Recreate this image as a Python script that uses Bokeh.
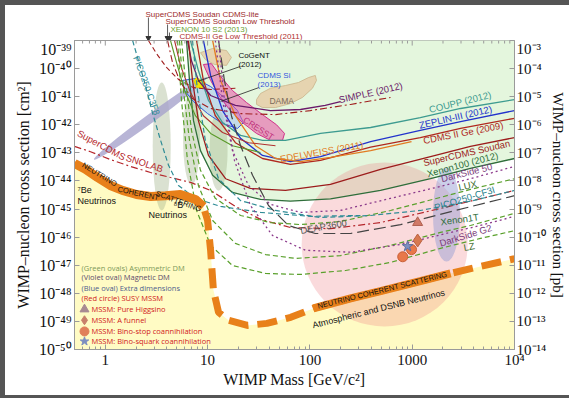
import math
from bokeh.plotting import figure
from bokeh.models import (Range1d, LogScale, LogAxis, FixedTicker,
                          CustomJSTickFormatter)
from bokeh.core.properties import value
from bokeh.layouts import column
from bokeh.embed import file_html
from bokeh.resources import INLINE

# WIMP mass in GeV/c^2, spin-independent WIMP-nucleon cross section in cm^2

# neutrino coherent scattering floor
floor_mass = [0.5, 0.64, 0.84, 1.12, 1.47, 2.02, 2.77, 3.88, 5.43, 7.6, 9.1, 10.0, 10.7,
              11.4, 12.8, 16.0, 24.5, 38.0, 65.0, 108, 250, 490, 1200, 2370, 4650, 10000]
floor_xsec = [4.2e-44, 2.6e-44, 1.33e-44, 6.9e-45, 4.6e-45, 3.3e-45, 2.8e-45, 3.0e-45, 3.3e-45,
              2.2e-45, 1.23e-45, 3.9e-46, 3.4e-47, 1.3e-48, 2.1e-49, 1.1e-49, 7.2e-50, 8.5e-50,
              1.4e-49, 2.9e-49, 6.6e-49, 1.2e-48, 2.7e-48, 5.1e-48, 9.1e-48, 1.7e-47]

# current limits
coupp_mass = [6.8, 8.13, 10.2, 14.0, 21.0, 34.4, 57.7, 127, 392, 1200, 2970, 10000]
coupp_xsec = [1.0e-39, 8.5e-41, 7.3e-42, 1.2e-42, 4.2e-43, 2.8e-43, 2.8e-43, 4.9e-43,
              8.0e-43, 1.8e-42, 3.8e-42, 7.9e-42]
zeplin_mass = [9.1, 10.7, 14.0, 21.0, 34.4, 64.6, 127, 392, 1200, 2970, 10000]
zeplin_xsec = [1.0e-39, 5.7e-41, 3.2e-42, 3.3e-43, 8.1e-44, 4.9e-44, 7.4e-44, 2.5e-43,
               6.3e-43, 1.3e-42, 3.2e-42]
cdmsge_mass = [7.8, 9.1, 11.9, 18.7, 34.4, 64.6, 127, 392, 1200, 2970, 10000]
cdmsge_xsec = [1.0e-39, 3.8e-41, 2.1e-42, 2.3e-43, 6.3e-44, 3.9e-44, 5.4e-44, 1.6e-43,
               3.5e-43, 7.4e-43, 1.7e-42]
edelweiss_mass = [11.2, 13.4, 18.7, 29.4, 46.1, 80.9, 159, 392, 985]
edelweiss_xsec = [1.0e-39, 3.8e-41, 2.1e-42, 1.8e-43, 6.3e-44, 4.9e-44, 6.9e-44, 1.2e-43, 2.5e-43]
xenon100_mass = [6.22, 6.65, 7.28, 8.52, 11.2, 17.5, 32.9, 64.6, 159, 490, 1510, 3710, 10000]
xenon100_xsec = [1.0e-39, 3.8e-41, 1.4e-42, 1.2e-43, 1.6e-44, 3.9e-45, 2.2e-45, 1.9e-45,
                 2.3e-45, 4.6e-45, 1.2e-44, 2.8e-44, 6.3e-44]
simple_mass = [6.36, 6.96, 8.13, 10.7, 18.7, 41.2, 80.9, 141, 199]
simple_xsec = [1.0e-39, 1.9e-40, 3.8e-41, 1.1e-41, 4.9e-42, 3.2e-42, 3.5e-42, 4.9e-42, 6.7e-42]
cdmslite_mass = [2.64, 3.17, 3.97, 5.19, 7.28, 10.7, 18.7]
cdmslite_xsec = [1.0e-39, 3.4e-40, 1.1e-40, 4.1e-41, 2.1e-41, 1.8e-41, 2.0e-41]
soudan_lt_mass = [4.06, 4.54, 5.43, 7.12, 10.7, 21.0, 46.1, 101, 250, 614]
soudan_lt_xsec = [1.0e-39, 1.65e-40, 3.2e-41, 8.6e-42, 3.8e-42, 2.5e-42, 2.3e-42, 3.2e-42,
                  5.3e-42, 9.4e-42]
xenon10_mass = [4.34, 4.97, 5.95, 7.6, 10.7, 17.5, 32.9]
xenon10_xsec = [1.0e-39, 1.65e-40, 1.66e-41, 2.1e-42, 4.9e-43, 1.8e-43, 1.03e-43]
cdmsge_lt_mass = [4.75, 5.43, 6.81, 9.1, 14.0, 25.1, 46.1]
cdmsge_lt_xsec = [1.0e-39, 1.3e-40, 1.4e-41, 2.1e-42, 5.3e-43, 2.3e-43, 1.8e-43]

# projected sensitivities
soudan_mass = [6.5, 7.12, 8.13, 10.2, 15.0, 26.2, 57.7, 159, 490, 1510, 3710, 10000]
soudan_xsec = [1.0e-39, 3.8e-41, 1.4e-42, 8.1e-44, 1.2e-44, 5.4e-45, 4.6e-45, 7.5e-45,
               2.6e-44, 7.4e-44, 1.7e-43, 3.5e-43]
snolab_mass = [0.5, 0.717, 1.12, 1.76, 2.77, 4.34, 6.81, 10.7, 18.7, 32.9, 64.6, 159, 490,
               1890, 10000]
snolab_xsec = [1.7e-43, 1.1e-43, 5.8e-44, 3.3e-44, 2.0e-44, 1.33e-44, 8.9e-45, 4.6e-45,
               1.24e-45, 4.3e-46, 2.2e-46, 2.0e-46, 3.3e-46, 1.05e-45, 4.6e-45]
ds50_mass = [11.9, 14.0, 17.5, 25.1, 41.2, 80.9, 199, 614, 1890, 3710, 10000]
ds50_xsec = [1.0e-39, 7.3e-42, 1.2e-43, 6.9e-45, 1.46e-45, 7.6e-46, 8.9e-46, 2.4e-45,
             6.4e-45, 1.2e-44, 3.3e-44]
lux_mass = [5.56, 6.08, 6.96, 8.52, 11.9, 21.0, 41.2, 80.9, 199, 614, 1890, 3710, 10000]
lux_xsec = [1.0e-39, 3.8e-41, 6.3e-43, 2.4e-44, 2.4e-45, 5.9e-46, 3.3e-46, 2.8e-46, 3.6e-46,
            8.9e-46, 2.6e-45, 5.0e-45, 1.2e-44]
pico_cf3i_mass = [7.12, 7.96, 9.5, 12.8, 21.0, 46.1, 127, 392, 1200, 3710, 10000]
pico_cf3i_xsec = [1.0e-39, 1.66e-41, 2.8e-43, 1.2e-44, 2.0e-45, 8.9e-46, 5.0e-46, 5.9e-46,
                  8.9e-46, 1.9e-45, 4.6e-45]
pico_c3f8_mass = [1.85, 2.11, 2.47, 2.89, 3.47, 4.15, 5.19, 7.6, 13.4, 32.9, 101, 312]
pico_c3f8_xsec = [1.0e-39, 1.9e-40, 2.5e-41, 2.7e-42, 2.8e-43, 3.6e-44, 6.9e-45, 2.4e-45,
                  1.24e-45, 7.6e-46, 5.5e-46, 5.9e-46]
deap_mass = [12.8, 14.6, 17.1, 21.0, 27.5, 39.4, 61.7, 113, 250, 770, 2650, 10000]
deap_xsec = [1.0e-39, 3.8e-41, 2.1e-42, 1.8e-43, 1.6e-44, 1.34e-45, 2.6e-46, 1.35e-46,
             1.35e-46, 2.8e-46, 8.9e-46, 3.0e-45]
xenon1t_mass = [5.31, 5.81, 6.65, 8.13, 11.2, 18.7, 36.8, 72.3, 199, 614, 1890, 3710, 10000]
xenon1t_xsec = [1.0e-39, 1.66e-41, 2.8e-43, 6.9e-45, 3.9e-46, 6.0e-47, 2.4e-47, 1.75e-47,
                2.2e-47, 5.1e-47, 1.47e-46, 2.6e-46, 7.0e-46]
dsg2_mass = [12.8, 14.6, 18.3, 26.2, 43.1, 90.6, 250, 770, 2370, 4650, 10000]
dsg2_xsec = [1.0e-39, 7.3e-42, 5.4e-44, 1.34e-45, 1.15e-46, 3.4e-47, 2.9e-47, 5.5e-47,
             1.47e-46, 2.6e-46, 5.5e-46]
lz_mass = [5.08, 5.56, 6.36, 7.8, 10.7, 17.5, 36.8, 80.9, 223, 614, 1890, 4650, 10000]
lz_xsec = [1.0e-39, 7.3e-42, 5.4e-44, 8.9e-46, 5.1e-47, 9.8e-48, 5.1e-48, 4.7e-48, 6.5e-48,
           1.26e-47, 4.0e-47, 9.0e-47, 1.7e-46]

# signal regions
dama_mass = [30.1, 32.9, 41.2, 57.7, 77.4, 96.9, 113, 116, 106, 84.7, 64.6, 46.1, 34.4, 30.1]
dama_xsec = [7.9e-42, 1.3e-41, 2.0e-41, 2.5e-41, 3.2e-41, 4.8e-41, 5.7e-41, 3.8e-41, 2.0e-41,
             9.4e-42, 5.7e-42, 4.1e-42, 4.1e-42, 5.3e-42]
dama_na_mass = [8.52, 11.2, 15.3, 17.1, 15.3, 11.7, 9.5]
dama_na_xsec = [3.7e-40, 5.2e-40, 4.4e-40, 2.5e-40, 1.3e-40, 1.4e-40, 2.1e-40]
cresst_mass = [9.1, 10.9, 13.4, 17.5, 24.0, 34.4, 47.2, 56.5, 54.0, 41.2, 30.1, 21.9, 16.7,
               13.1, 10.7]
cresst_xsec = [1.4e-40, 1.5e-40, 5.2e-41, 1.66e-41, 6.2e-42, 2.3e-42, 1.0e-42, 4.9e-43,
               2.8e-43, 2.8e-43, 4.9e-43, 1.2e-42, 3.2e-42, 1.0e-41, 3.8e-41]
cdmssi_mass = [5.68, 7.6, 10.7, 15.0, 19.6, 22.4, 19.6, 14.0, 10.0, 7.28, 5.95]
cdmssi_xsec = [3.8e-41, 4.4e-41, 2.3e-41, 8.6e-42, 3.2e-42, 1.2e-42, 7.4e-43, 1.1e-42,
               2.5e-42, 6.7e-42, 1.66e-41]
cogent_mass = [7.28, 7.79, 9.5, 8.91, 7.8]
cogent_xsec = [3.8e-41, 4.8e-41, 3.2e-41, 2.0e-41, 2.1e-41]

# theory ovals (centres)
asym_mass = [3.56, 6.96, 12.8]
asym_xsec = [1.7e-43, 3.5e-43, 1.2e-43]
magnetic_mass = [2.77]
magnetic_xsec = [1.7e-42]
extradim_mass = [2165]
extradim_xsec = [6.4e-46]
mssm_mass = [538]
mssm_xsec = [5.5e-47]

# MSSM benchmark points
higgsino_mass, higgsino_xsec = [1130], [3.3e-46]
afunnel_mass, afunnel_xsec = [1130], [7.6e-47]
binostop_mass, binostop_xsec = [808, 985], [2.0e-47, 3.6e-47]
binosquark_mass, binosquark_xsec = [900], [4.7e-47]

# experiments noted above the frame, with the mass their arrow points to
top_names = ["SuperCDMS Soudan CDMS-lite", "SuperCDMS Soudan Low Threshold",
             "XENON 10 S2 (2013)", "CDMS-II Ge Low Threshold (2011)"]
top_arrow_mass = [2.64, 4.06, 4.24, 4.75]

SANS = "Liberation Sans"
SERIF = "Liberation Serif"
OPEN = "Open Sans"
AXIS_GREY = "#9a9a9a"

mass_range = Range1d(0.5, 1e4)

p = figure(width=564, height=355, x_axis_type="log", y_axis_type="log", title=None,
           x_range=mass_range, y_range=Range1d(1e-50, 1e-39),
           output_backend="svg", toolbar_location=None,
           min_border_left=69, min_border_right=55, min_border_top=0,
           min_border_bottom=46, background_fill_color="white",
           border_fill_color="white")
p.outline_line_color = AXIS_GREY
p.grid.visible = False

# excluded region above XENON100
p.patch(xenon100_mass + [1e4, xenon100_mass[0]], xenon100_xsec + [1e-37, 1e-37],
        fill_color="#e4f6dd", line_color=None)
# region below the neutrino floor
p.patch(floor_mass + [1e4, 0.5], floor_xsec + [1e-53, 1e-53],
        fill_color="#fffbc4", line_color=None)

# theory ovals
p.ellipse(mssm_mass, mssm_xsec, width=166, height=164, width_units="screen",
          height_units="screen", fill_color="#ee7a80", fill_alpha=0.28, line_color=None)
p.ellipse(extradim_mass, extradim_xsec, width=27, height=94, width_units="screen",
          height_units="screen", fill_color="#9aa0d4", fill_alpha=0.5, line_color=None)
p.ellipse(asym_mass, asym_xsec, width=[18, 17, 18], height=[128, 95, 80],
          width_units="screen", height_units="screen", fill_color="#a3b48c",
          fill_alpha=0.4, line_color=None)
p.ellipse(magnetic_mass, magnetic_xsec, width=140, height=9, angle=0.63,
          width_units="screen", height_units="screen", fill_color="#a6a2cc",
          fill_alpha=0.8, line_color=None)

# signal regions
p.patch(dama_mass, dama_xsec, fill_color="#e6d4b0", line_color="#c9b38a", line_width=0.8)
p.patch(dama_na_mass, dama_na_xsec, fill_color="#e6d4b0", line_color="#c9b38a", line_width=0.8)
p.patch(cdmssi_mass, cdmssi_xsec, fill_color="#a6c4f0", fill_alpha=0.55,
        line_color="#3355dd", line_width=1)
p.patch(cresst_mass, cresst_xsec, fill_color="#e860aa", fill_alpha=0.6,
        line_color="#d0308a", line_width=1)
p.patch(cogent_mass, cogent_xsec, fill_color="#f2e400", line_color="#c8b800", line_width=0.6)

curves = [
    (coupp_mass, coupp_xsec, "#3d9b90", "solid", 1.3),
    (zeplin_mass, zeplin_xsec, "#2233cc", "solid", 1.3),
    (cdmsge_mass, cdmsge_xsec, "#b0281e", "solid", 1.3),
    (edelweiss_mass, edelweiss_xsec, "#e27b22", "solid", 1.3),
    (xenon100_mass, xenon100_xsec, "#2f6e3b", "solid", 1.3),
    (simple_mass, simple_xsec, "#6a1a6a", "solid", 1.3),
    (xenon10_mass, xenon10_xsec, "#5a9a2a", "solid", 1.1),
    (cdmsge_lt_mass, cdmsge_lt_xsec, "#b03030", "solid", 1.1),
    (soudan_mass, soudan_xsec, "#9c1c1c", "solid", 1.3),
    (cdmslite_mass, cdmslite_xsec, "#a01e1e", "5 3", 1.1),
    (soudan_lt_mass, soudan_lt_xsec, "#a01e1e", "7 3 2 3", 1.1),
    (snolab_mass, snolab_xsec, "#b5262b", "7 3 2 3", 1.2),
    (ds50_mass, ds50_xsec, "#8b3a8b", "2 3", 1.3),
    (lux_mass, lux_xsec, "#5aa02c", "5 3", 1.2),
    (pico_cf3i_mass, pico_cf3i_xsec, "#2f8c96", "5 3", 1.2),
    (pico_c3f8_mass, pico_c3f8_xsec, "#2f8c96", "5 3", 1.2),
    (deap_mass, deap_xsec, "#444444", "12 5", 1.2),
    (xenon1t_mass, xenon1t_xsec, "#5aa02c", "5 3", 1.2),
    (dsg2_mass, dsg2_xsec, "#8b3a8b", "2 3", 1.3),
    (lz_mass, lz_xsec, "#5aa02c", "5 3", 1.2),
]
for xs, ys, color, dash, width in curves:
    p.line(xs, ys, line_color=color, line_dash=dash, line_width=width)

# neutrino floor band
p.line(floor_mass, floor_xsec, line_color="#e8801a", line_width=7, line_dash="20 9")
p.line(floor_mass[:11], floor_xsec[:11], line_color="#e8801a", line_width=9)
p.line(floor_mass[19:24], floor_xsec[19:24], line_color="#e8801a", line_width=8)

# MSSM benchmark points
p.scatter(higgsino_mass, higgsino_xsec, marker="triangle", size=10, fill_color="#d07a68",
          line_color="#b06050")
p.scatter(afunnel_mass, afunnel_xsec, marker="diamond", size=13, fill_color="#d8784f",
          line_color="#b86040")
p.scatter(binostop_mass, binostop_xsec, marker="circle", size=10, fill_color="#e8784a",
          line_color="#c86038")
p.scatter(binosquark_mass, binosquark_xsec, marker="star", size=11, fill_color="#7d8fc0",
          line_color="#5d6fa0")


def note(fig, x, y, txt, color, size=9.0, angle=0.0, align="center", font=SANS):
    fig.text(x=[x], y=[y], text=[txt], angle=math.radians(angle), text_color=color,
             text_font=value(font), text_font_size=f"{size}px", text_align=align,
             text_baseline="middle")


# curve labels
note(p, 2950, 6.5e-42, "COUPP (2012)", "#3d9b90", 9.5, 14)
note(p, 2650, 1.9e-42, "ZEPLIN-III (2012)", "#2233cc", 9.5, 13)
note(p, 3150, 5.2e-43, "CDMS II Ge (2009)", "#b0281e", 9.5, 11)
note(p, 3400, 1.0e-43, "SuperCDMS Soudan", "#9c1c1c", 9.5, 13)
note(p, 3100, 3.9e-44, "Xenon100 (2012)", "#2f6e3b", 9.5, 15)
note(p, 3400, 2.0e-44, "DarkSide 50", "#7a3a7a", 9.5, 14)
note(p, 3480, 6.9e-45, "LUX", "#3a6a2a", 9.5, 12)
note(p, 3250, 2.4e-45, "PICO250-CF3I", "#2a7f8a", 9.5, 17)
note(p, 2910, 4.3e-46, "Xenon1T", "#2f6e3b", 9.5, 8)
note(p, 3330, 1.15e-46, "DarkSide G2", "#7a3a7a", 9.5, 17)
note(p, 3600, 4.6e-47, "LZ", "#3a6a2a", 9.5, 10)
note(p, 136, 2.4e-46, "DEAP3600", "#555555", 9.5, 10)
note(p, 130, 1.1e-43, "EDELWEISS (2011)", "#e27b22", 9.5, 10)
note(p, 393, 1.4e-41, "SIMPLE (2012)", "#6a1a6a", 9.5, 13)
note(p, 0.92, 1.9e-43, "SuperCDMS", "#b5262b", 9.5, -28)
note(p, 2.42, 4.3e-44, "SNOLAB", "#b5262b", 9.5, -18)
note(p, 2.53, 2.5e-41, "PICO250-C3F8", "#2f8c96", 9, -70)
note(p, 53, 7.3e-42, "DAMA", "#7a6a5a", 8.5)
note(p, 31.5, 7.4e-43, "CRESST", "#c0307a", 8.5, -33)
note(p, 20, 2.9e-40, "CoGeNT", "#111111", 8, 0, "left")
note(p, 20, 1.4e-40, "(2012)", "#111111", 8, 0, "left")
note(p, 30.8, 5.6e-41, "CDMS Si", "#3355dd", 8, 0, "left")
note(p, 30.8, 2.7e-41, "(2013)", "#3355dd", 8, 0, "left")
p.line([21, 8.0], [1.2e-40, 3.5e-41], line_color="#222222", line_width=0.8)
p.line([31.6, 13.4], [2.1e-41, 6.8e-42], line_color="#222222", line_width=0.8)

# neutrino labels
note(p, 0.535, 4.6e-45, "\u2077Be", "#111111", 9, 0, "left")
note(p, 0.535, 1.86e-45, "Neutrinos", "#111111", 9, 0, "left")
note(p, 4.64, 1.35e-45, "\u2078B", "#111111", 9, 0, "left")
note(p, 2.64, 5.9e-46, "Neutrinos", "#111111", 9, 0, "left")
note(p, 0.88, 1.7e-44, "NEUTRINO", "#111111", 7.5, -31)
note(p, 2.1, 3.6e-45, "COHERENT", "#111111", 7.5, -12)
note(p, 5.2, 1.9e-45, "SCATTERING", "#111111", 7.5, -20)
note(p, 510, 1.3e-48, "NEUTRINO COHERENT SCATTERING", "#111111", 7.5, 14)
note(p, 470, 2.8e-49, "Atmospheric and DSNB Neutrinos", "#111111", 9, 14)

# key for the theory regions
key_mass = 0.585
note(p, key_mass, 8.3e-48, "(Green ovals) Asymmetric DM", "#7d9a5a", 7.5, 0, "left", OPEN)
note(p, key_mass, 3.7e-48, "(Violet oval) Magnetic DM", "#5d4d6d", 7.5, 0, "left", OPEN)
note(p, key_mass, 1.6e-48, "(Blue oval) Extra dimensions", "#4d5d8d", 7.5, 0, "left", OPEN)
note(p, key_mass, 6.6e-49, "(Red circle) SUSY MSSM", "#d02020", 7.5, 0, "left", OPEN)
key_y = [2.7e-49, 1.1e-49, 4.4e-50, 1.95e-50]
key_text = ["MSSM: Pure Higgsino", "MSSM: A funnel", "MSSM: Bino-stop coannihilation",
            "MSSM: Bino-squark coannihilation"]
key_marker = ["triangle", "diamond", "circle", "star"]
key_color = ["#a88a92", "#c8806a", "#e0805a", "#7d8fc0"]
for yy, tt, mk, cc in zip(key_y, key_text, key_marker, key_color):
    p.scatter([0.626], [yy], marker=mk, size=9, fill_color=cc, line_color=cc)
    note(p, 0.733, yy, tt, "#d02020", 7.5, 0, "left", OPEN)

# axes
exp_code = """
const sup = {"-": "\u207b", "0": "\u2070", "1": "\u00b9", "2": "\u00b2", "3": "\u00b3",
             "4": "\u2074", "5": "\u2075", "6": "\u2076", "7": "\u2077", "8": "\u2078",
             "9": "\u2079"};
const e = Math.round(Math.log10(tick));
return "10" + String(e).split("").map(c => sup[c]).join("");
"""
mass_code = """
const e = Math.round(Math.log10(tick));
return e >= 4 ? "10\u2074" : String(Math.round(tick));
"""
mass_major = [1, 10, 100, 1000, 10000]
mass_minor = [m * 10 ** k for k in range(-1, 4) for m in range(2, 10)]
xsec_major = [10.0 ** k for k in range(-50, -38)]
pb_major = [10.0 ** k for k in range(-14, -2)]


def style(ax):
    ax.axis_line_color = AXIS_GREY
    ax.major_tick_line_color = AXIS_GREY
    ax.minor_tick_line_color = AXIS_GREY
    ax.major_tick_in = 5
    ax.major_tick_out = 0
    ax.minor_tick_in = 3
    ax.minor_tick_out = 0
    ax.major_label_text_font = SERIF
    ax.major_label_text_color = "#111111"
    ax.axis_label_text_font = SERIF
    ax.axis_label_text_font_style = "normal"
    ax.axis_label_text_color = "#111111"


xa = p.xaxis[0]
style(xa)
xa.ticker = FixedTicker(ticks=mass_major, minor_ticks=mass_minor)
xa.formatter = CustomJSTickFormatter(code=mass_code)
xa.major_label_text_font_size = "15px"
xa.major_label_standoff = 2
xa.axis_label = "WIMP Mass [GeV/c\u00b2]"
xa.axis_label_text_font_size = "16px"
xa.axis_label_standoff = 0

ya = p.yaxis[0]
style(ya)
ya.ticker = FixedTicker(ticks=xsec_major, minor_ticks=[])
ya.formatter = CustomJSTickFormatter(code=exp_code)
ya.major_label_text_font_size = "16px"
ya.major_label_standoff = 3
ya.axis_label = "WIMP\u2013nucleon cross section [cm\u00b2]"
ya.axis_label_text_font_size = "16px"
ya.axis_label_standoff = 4

p.extra_y_ranges = {"pb": Range1d(1e-14, 1e-3)}
p.extra_y_scales = {"pb": LogScale()}
ra = LogAxis(y_range_name="pb")
style(ra)
ra.ticker = FixedTicker(ticks=pb_major, minor_ticks=[])
ra.formatter = CustomJSTickFormatter(code=exp_code)
ra.major_label_text_font_size = "15px"
ra.major_label_standoff = 2
ra.axis_label = "WIMP\u2013nucleon cross section [pb]"
ra.axis_label_text_font_size = "15px"
ra.axis_label_standoff = 1
p.add_layout(ra, "right")

# inward tick marks along the top edge of the frame
top_major_len = 6.6e-40
top_minor_len = 7.8e-40
p.segment(x0=mass_major, y0=[1e-39] * 5, x1=mass_major, y1=[top_major_len] * 5,
          line_color=AXIS_GREY, line_width=1)
p.segment(x0=mass_minor, y0=[1e-39] * len(mass_minor), x1=mass_minor,
          y1=[top_minor_len] * len(mass_minor), line_color=AXIS_GREY, line_width=1)

# strip above the frame: experiment names with arrows onto the frame (y in pixels)
head = figure(width=564, height=35, x_axis_type="log", x_range=mass_range,
              y_range=Range1d(0, 35), title=None, output_backend="svg",
              toolbar_location=None, x_axis_location=None, y_axis_location=None,
              min_border_left=69, min_border_right=55, min_border_top=0,
              min_border_bottom=0, background_fill_color="white",
              border_fill_color="white")
head.outline_line_color = None
head.grid.visible = False
name_x = [2.47, 3.88, 4.34, 5.31]
name_y = [26, 19, 11, 4]
name_color = ["#9c2a2a", "#9c2a2a", "#6aa030", "#b03030"]
arrow_top = [23, 16, 8, 2]
for nm, nx, ny, nc in zip(top_names, name_x, name_y, name_color):
    note(head, nx, ny, nm, nc, 8, 0, "left")
head.segment(x0=top_arrow_mass[:3], y0=arrow_top[:3], x1=top_arrow_mass[:3], y1=[0, 0, 0],
             line_color="#333333", line_width=0.8)
head.scatter(top_arrow_mass[:3], [2.5, 2.5, 2.5], marker="inverted_triangle", size=5,
             fill_color="#333333", line_color="#333333")

page = column(head, p, styles={"background-color": "white",
                               "border-left": "5px solid #555555",
                               "border-top": "5px solid #555555",
                               "border-bottom": "3px solid #555555"})
open("out.html", "w").write(file_html(page, INLINE))
